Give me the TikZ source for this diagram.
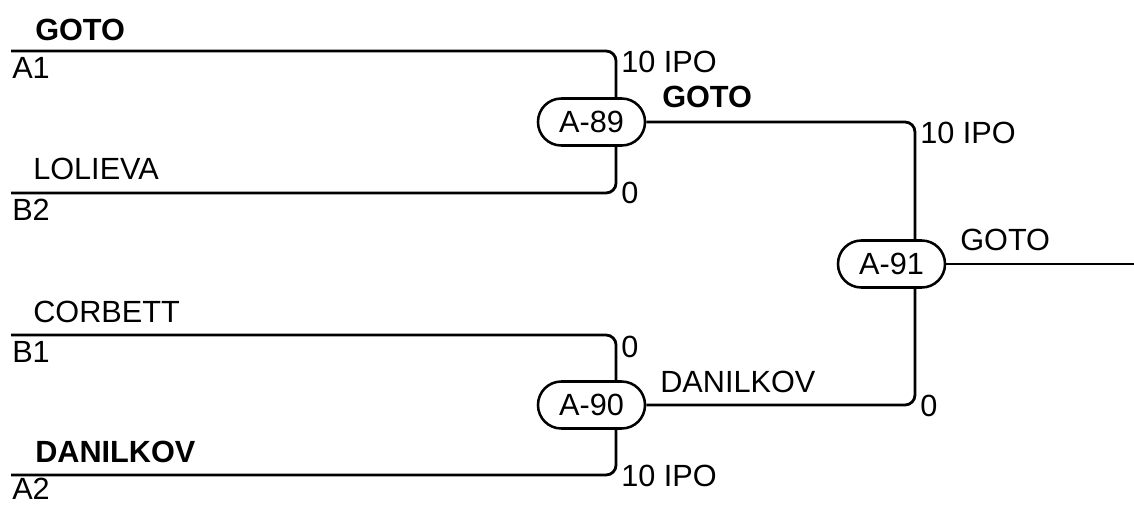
\documentclass[tikz,border=0pt]{standalone}
\usepackage{fontspec}
\setmainfont{Liberation Sans}
\usepackage{tikz}

\tikzset{
  match/.style={draw, line width=1.9pt, rectangle, rounded corners=17.5pt,
    minimum width=80.25pt, minimum height=35.25pt, inner sep=0pt},
  wire/.style={line width=2.1pt, rounded corners=7.5pt},
  lbl/.style={anchor=base west, inner sep=0pt},
}

\begin{document}
\begin{tikzpicture}[x=0.75pt,y=0.75pt,yscale=-1,xscale=1]
        \fontsize{23pt}{27pt}\selectfont
        \useasboundingbox (0,0) rectangle (1134,504);

        %Shape: Match nodes
        \node [match] (m89) at (591.5,122) {A-89};
        \node [match] (m90) at (591.5,405) {A-90};
        \node [match] (m91) at (891.5,264) {A-91};

        %Line starts
        \coordinate (a1) at (11,51);
        \coordinate (b2) at (11,193);
        \coordinate (b1) at (11,335);
        \coordinate (a2) at (11,475);
        \coordinate (out) at (1134,264);

        %Straight Lines
        \draw [wire] (a1) -| ([xshift=18.4pt]m89.north);
        \draw [wire] (b2) -| ([xshift=18.4pt]m89.south);
        \draw [wire] (b1) -| ([xshift=18.4pt]m90.north);
        \draw [wire] (a2) -| ([xshift=18.4pt]m90.south);
        \draw [wire] (m89.east) -| ([xshift=17.6pt]m91.north);
        \draw [wire] (m90.east) -| ([xshift=17.6pt]m91.south);
        \draw [wire] (m91.east) -- (out);

        % Text Node
        \node [lbl] (nGotoA) at (35,40) {\bfseries GOTO};
        \node [lbl] (sA1) at (12,78) {A1};
        \node [lbl] (nLolieva) at (33,179) {LOLIEVA};
        \node [lbl] (sB2) at (12,220) {B2};
        \node [lbl] (nCorbett) at (33,322) {CORBETT};
        \node [lbl] (sB1) at (12,362) {B1};
        \node [lbl] (nDanilkovA) at (35,462) {\bfseries DANILKOV};
        \node [lbl] (sA2) at (12,499) {A2};
        % Text Node
        \node [lbl] (rA1) at (621,72) {10 IPO};
        \node [lbl] (rB2) at (621,203) {0};
        \node [lbl] (rB1) at (621,357) {0};
        \node [lbl] (rA2) at (621,486) {10 IPO};
        \node [lbl] (w89) at (662,107) {\bfseries GOTO};
        \node [lbl] (w90) at (660,392) {DANILKOV};
        \node [lbl] (r89) at (920,143) {10 IPO};
        \node [lbl] (r90) at (920,416) {0};
        \node [lbl] (w91) at (960,250) {GOTO};

\end{tikzpicture}
\end{document}
